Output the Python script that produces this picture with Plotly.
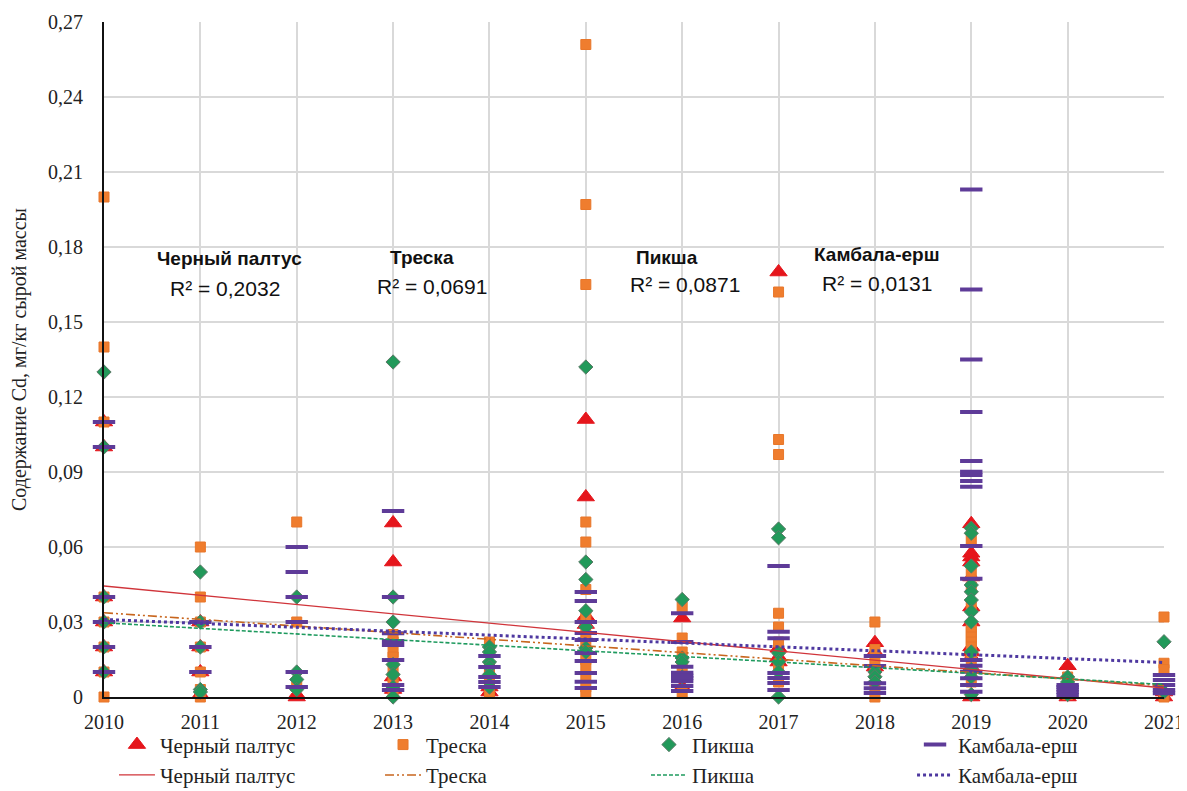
import plotly.graph_objects as go

# ---------------- data ----------------
species = ["Черный палтус", "Треска", "Пикша", "Камбала-ерш"]

halibut_years = ([2010]*6 + [2011]*4 + [2012]*2 + [2013]*4 + [2014]*2 + [2015]*4 + [2016]*2
                 + [2017]*4 + [2018]*3 + [2019]*12 + [2020]*3 + [2021]*2)
halibut_vals = [0.11, 0.10, 0.04, 0.03, 0.02, 0.01,
                0.03, 0.02, 0.01, 0.001,
                0.001, 0.0,
                0.0696, 0.054, 0.008, 0.003,
                0.002, 0.004,
                0.111, 0.080, 0.0324, 0.029,
                0.0316, 0.004,
                0.170, 0.0195, 0.016, 0.014,
                0.0217, 0.018, 0.012,
                0.0693, 0.0575, 0.056, 0.054, 0.048, 0.036, 0.030, 0.020, 0.018, 0.016, 0.012, 0.0,
                0.0125, 0.0, 0.002,
                0.002, 0.0]

cod_years = ([2010]*8 + [2011]*7 + [2012]*3 + [2013]*8 + [2014]*6 + [2015]*14 + [2016]*5
             + [2017]*8 + [2018]*6 + [2019]*13 + [2020]*3 + [2021]*4)
cod_vals = [0.20, 0.14, 0.11, 0.04, 0.03, 0.02, 0.01, 0.0,
            0.06, 0.04, 0.03, 0.02, 0.01, 0.0, 0.003,
            0.07, 0.03, 0.005,
            0.025, 0.022, 0.018, 0.016, 0.011, 0.008, 0.005, 0.002,
            0.022, 0.019, 0.012, 0.010, 0.006, 0.002,
            0.261, 0.197, 0.165, 0.070, 0.062, 0.043, 0.032, 0.025, 0.020, 0.015, 0.012, 0.008, 0.004, 0.0016,
            0.036, 0.0236, 0.018, 0.012, 0.002,
            0.162, 0.103, 0.097, 0.0335, 0.028, 0.022, 0.012, 0.006,
            0.030, 0.019, 0.015, 0.010, 0.004, 0.0,
            0.063, 0.050, 0.044, 0.036, 0.028, 0.026, 0.024, 0.022, 0.020, 0.017, 0.015, 0.010, 0.006,
            0.008, 0.004, 0.001,
            0.032, 0.0135, 0.011, 0.0]

haddock_years = ([2010]*6 + [2011]*5 + [2012]*4 + [2013]*7 + [2014]*6 + [2015]*7 + [2016]*4
                 + [2017]*6 + [2018]*3 + [2019]*12 + [2020]*3 + [2021]*2)
haddock_vals = [0.13, 0.10, 0.04, 0.03, 0.02, 0.01,
                0.05, 0.03, 0.02, 0.003, 0.002,
                0.04, 0.01, 0.007, 0.003,
                0.134, 0.040, 0.030, 0.013, 0.009, 0.004, 0.0,
                0.020, 0.018, 0.014, 0.012, 0.009, 0.004,
                0.132, 0.054, 0.047, 0.0345, 0.028, 0.0196, 0.018,
                0.039, 0.0156, 0.014, 0.008,
                0.0672, 0.0637, 0.0176, 0.0141, 0.010, 0.0,
                0.010, 0.0081, 0.006,
                0.0675, 0.0655, 0.0524, 0.0448, 0.0421, 0.0388, 0.0341, 0.0301, 0.018, 0.011, 0.008, 0.001,
                0.008, 0.006, 0.001,
                0.0221, 0.002]

dab_years = ([2010]*6 + [2011]*3 + [2012]*6 + [2013]*8 + [2014]*5 + [2015]*10 + [2016]*9
             + [2017]*7 + [2018]*5 + [2019]*17 + [2020]*5 + [2021]*5)
dab_vals = [0.11, 0.10, 0.04, 0.03, 0.02, 0.01,
            0.03, 0.02, 0.01,
            0.06, 0.05, 0.04, 0.03, 0.01, 0.004,
            0.0744, 0.040, 0.0255, 0.0224, 0.0208, 0.0148, 0.0048, 0.0028,
            0.0164, 0.012, 0.008, 0.006, 0.004,
            0.042, 0.0384, 0.030, 0.0256, 0.0228, 0.0176, 0.0144, 0.0096, 0.0061, 0.0036,
            0.0335, 0.022, 0.0121, 0.0097, 0.0085, 0.0076, 0.0063, 0.0044, 0.0024,
            0.0524, 0.0261, 0.0235, 0.0096, 0.0076, 0.0056, 0.0028,
            0.0164, 0.0124, 0.0055, 0.0035, 0.0016,
            0.203, 0.163, 0.135, 0.114, 0.0944, 0.0901, 0.0888, 0.0864, 0.0841, 0.0604, 0.0473,
            0.0148, 0.0125, 0.0101, 0.0075, 0.0048, 0.0021,
            0.0048, 0.004, 0.003, 0.002, 0.0008,
            0.0088, 0.0068, 0.0048, 0.0028, 0.0015]

# linear trend lines (endpoints)
trend_years = [2010, 2021]
halibut_trend = [0.0444, 0.0036]
cod_trend = [0.0337, 0.0045]
haddock_trend = [0.0297, 0.0050]
dab_trend = [0.0310, 0.0138]

r2_labels = ["R² = 0,2032", "R² = 0,0691", "R² = 0,0871", "R² = 0,0131"]

x_ticks = list(range(2010, 2022))
y_ticks = [0, 0.03, 0.06, 0.09, 0.12, 0.15, 0.18, 0.21, 0.24, 0.27]
y_ticktext = ["0", "0,03", "0,06", "0,09", "0,12", "0,15", "0,18", "0,21", "0,24", "0,27"]

# ---------------- styling ----------------
RED = "#E5161C"
ORANGE = "#EF7D2E"
GREEN = "#22995A"
PURPLE = "#5E3B98"
SERIF = "Liberation Serif, Times New Roman, serif"
SANS = "Liberation Sans, Arial, sans-serif"

fig = go.Figure()

marker_specs = [
    (halibut_years, halibut_vals, dict(symbol="triangle-up", size=15, color=RED,
                                       line=dict(color=RED, width=1))),
    (cod_years, cod_vals, dict(symbol="square", size=10, color=ORANGE,
                               line=dict(color="#E8772A", width=1))),
    (haddock_years, haddock_vals, dict(symbol="diamond", size=11, color=GREEN,
                                       line=dict(color="#5C7A68", width=1))),
    (dab_years, dab_vals, dict(symbol="line-ew", size=16, color=PURPLE,
                               line=dict(color=PURPLE, width=4))),
]
for i, (xs, ys, mk) in enumerate(marker_specs):
    fig.add_trace(go.Scatter(x=xs, y=ys, mode="markers", name=species[i], marker=mk,
                             cliponaxis=False, legend="legend" if i == 0 else "legend%d" % (i + 1)))

trend_specs = [
    (halibut_trend, dict(color="#D0343A", width=1.3, dash="solid")),
    (cod_trend, dict(color="#C8661E", width=1.6, dash="9px,3px,2px,3px,2px,3px")),
    (haddock_trend, dict(color="#1E9A5E", width=1.6, dash="4px,2px")),
    (dab_trend, dict(color="#4E38A0", width=3, dash="dot")),
]
for i, (ys, ln) in enumerate(trend_specs):
    fig.add_trace(go.Scatter(x=trend_years, y=ys, mode="lines", name=species[i], line=ln,
                             legend="legend%d" % (i + 5)))

# annotations: species names (bold) and R² values
name_pos = [(2011.30, 0.1756), (2013.30, 0.176), (2015.84, 0.176), (2018.02, 0.1772)]
r2_pos = [(2011.26, 0.1636), (2013.40, 0.1644), (2016.03, 0.1652), (2018.02, 0.1656)]
for i in range(4):
    fig.add_annotation(x=name_pos[i][0], y=name_pos[i][1], text="<b>%s</b>" % species[i],
                       showarrow=False, font=dict(family=SANS, size=19, color="#111"))
    fig.add_annotation(x=r2_pos[i][0], y=r2_pos[i][1], text=r2_labels[i],
                       showarrow=False, font=dict(family=SANS, size=21, color="#111"))

# one legend per entry: 4 columns x 2 rows
col_x = [0.0094, 0.2604, 0.5113, 0.7623]
row_y = [-0.071, -0.116]
legends = {}
for r in range(2):
    for c in range(4):
        k = r * 4 + c + 1
        key = "legend" if k == 1 else "legend%d" % k
        legends[key] = dict(orientation="v", font=dict(family=SERIF, size=21, color="#222"),
                            bgcolor="rgba(0,0,0,0)", yanchor="middle", y=row_y[r],
                            xanchor="left", x=col_x[c], itemwidth=36)

# the page body adds an 8px offset at the top-left, so the figure is shrunk by 8px
fig.update_layout(
    width=1179, height=783,
    margin=dict(l=96, r=23, t=14, b=94, autoexpand=False),
    plot_bgcolor="white", paper_bgcolor="white",
    showlegend=True,
    xaxis=dict(range=[2010, 2021], tickvals=x_ticks, ticktext=[str(v) for v in x_ticks],
               showgrid=True, gridcolor="#D9D9D9", gridwidth=1.5,
               showline=True, linecolor="#111", linewidth=2, zeroline=False,
               ticks="", tickfont=dict(family=SERIF, size=20, color="#222"),
               ticklabelstandoff=6),
    yaxis=dict(range=[0, 0.27], tickvals=y_ticks, ticktext=y_ticktext,
               showgrid=True, gridcolor="#D9D9D9", gridwidth=1.5,
               showline=True, linecolor="#111", linewidth=2, zeroline=False,
               ticks="", tickfont=dict(family=SERIF, size=20, color="#222"),
               ticklabelstandoff=15,
               title=dict(text="Содержание Cd, мг/кг сырой массы",
                          font=dict(family=SERIF, size=20, color="#222"), standoff=19)),
    **legends,
)

fig.write_html("out.html")
